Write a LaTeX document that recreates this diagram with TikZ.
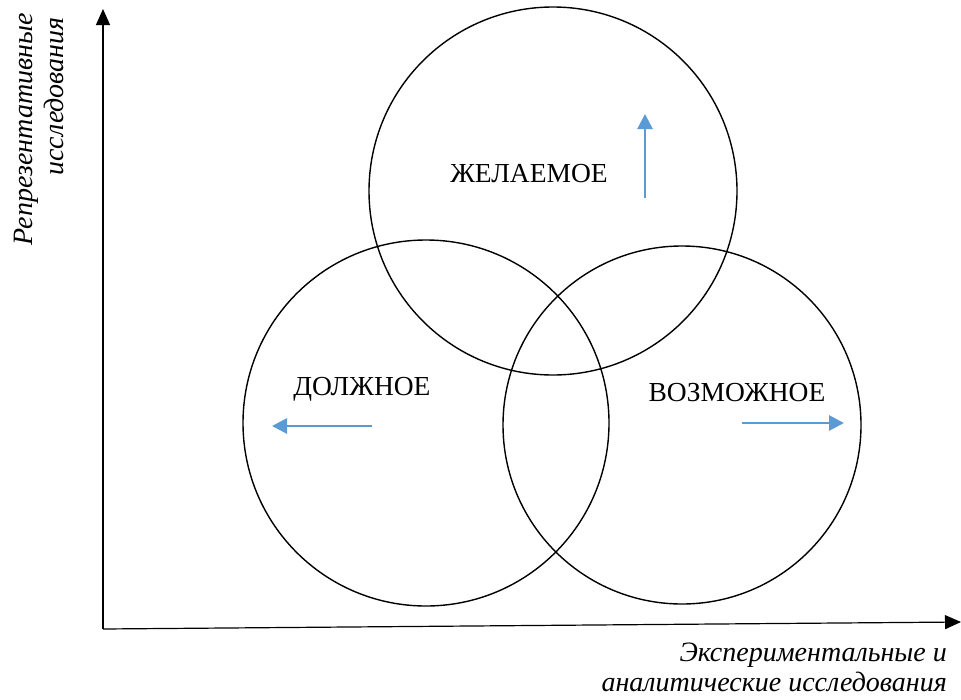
\documentclass[tikz,border=0pt]{standalone}
\usepackage{fontspec}
\setmainfont{Liberation Serif}
\usetikzlibrary{arrows.meta}
\begin{document}
\begin{tikzpicture}[x=1pt,y=-1pt,
  ring/.style={circle,draw=black,line width=1.4pt,inner sep=0pt},
  axis/.style={draw=black,line width=1.2pt,-{Triangle[length=16pt,width=14pt]}},
  bluearrow/.style={draw=arrowblue,line width=2.8pt,-{Triangle[length=15pt,width=15pt]}},
  lbl/.style={font=\fontsize{27.5}{32}\selectfont},
  axlbl/.style={font=\fontsize{28}{34}\selectfont\itshape,inner sep=0pt}]
\definecolor{arrowblue}{RGB}{91,155,213}
\useasboundingbox (0,0) rectangle (961,699);
% axes
\coordinate (o) at (103,629);
\coordinate (ytip) at (103,9);
\coordinate (xtip) at (961,622);
\draw[axis] (o) -- (ytip);
\draw[axis] (o) -- (xtip);
% circles
\node[ring,minimum size=368pt] (top) at (553,191) {};
\node[ring,minimum size=366pt] (left) at (426,423) {};
\node[ring,minimum size=358pt] (right) at (682,425) {};
% labels
\node[lbl] (tl) at (529,174) {ЖЕЛАЕМОЕ};
\node[lbl] (ll) at (362,389) {ДОЛЖНОЕ};
\node[lbl] (rl) at (737,393) {ВОЗМОЖНОЕ};
% blue arrows
\coordinate (ua) at (645,198); \coordinate (ub) at (645,114);
\coordinate (la) at (372,426); \coordinate (lb) at (272,426);
\coordinate (ra) at (742,423); \coordinate (rb) at (844,423);
\draw[bluearrow] (ua) -- (ub);
\draw[bluearrow] (la) -- (lb);
\draw[bluearrow] (ra) -- (rb);
% axis labels
\node[axlbl,rotate=90,anchor=base east] (yl1) at (32,13) {Репрезентативные};
\node[axlbl,rotate=90,anchor=base east] (yl2) at (63,17) {исследования};
\node[axlbl,anchor=base east] (xl1) at (947,661) {Экспериментальные и};
\node[axlbl,anchor=base east] (xl2) at (947,691) {аналитические исследования};
\end{tikzpicture}
\end{document}
